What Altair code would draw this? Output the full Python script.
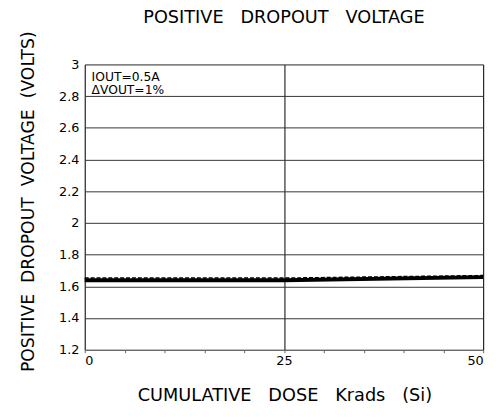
import altair as alt
import pandas as pd

dose = [0, 25, 50]
solid_v = [1.638, 1.638, 1.658]
dashed_v = [1.652, 1.652, 1.668]
x_ticks = [0, 5, 10, 15, 20, 25, 30, 35, 40, 45, 50]
y_ticks = [1.2, 1.4, 1.6, 1.8, 2.0, 2.2, 2.4, 2.6, 2.8, 3.0]
notes = ["IOUT=0.5A", "\u0394VOUT=1%"]
title_words = ["POSITIVE", "DROPOUT", "VOLTAGE"]
x_title_words = ["CUMULATIVE", "DOSE", "Krads", "(Si)"]
y_title_words = ["POSITIVE", "DROPOUT", "VOLTAGE", "(VOLTS)"]

FONT = "DejaVu Sans"
SP3 = " \u00a0\u00a0"
SP2 = " \u00a0"

df = pd.DataFrame({
    "dose": dose * 2,
    "v": solid_v + dashed_v,
    "series": ["solid"] * 3 + ["dashed"] * 3,
})

x = alt.X("dose:Q", scale=alt.Scale(domain=[0, 50], nice=False),
          axis=alt.Axis(values=x_ticks, title=SP3.join(x_title_words),
                        labelExpr="datum.value % 25 === 0 ? datum.label : ''",
                        gridOpacity={"condition": {"test": "datum.value % 25 === 0", "value": 1}, "value": 0},
                        gridColor="#000", tickSize=3, tickColor="#666",
                        labelFontSize=13, labelPadding=2, labelFont=FONT, labelColor="#000",
                        titleFont=FONT, titleFontSize=18, titleFontWeight="normal",
                        titleBaseline="alphabetic", titleY=52, titleX=203,
                        titleColor="#000", domain=False))
y = alt.Y("v:Q", scale=alt.Scale(domain=[1.2, 3.0], nice=False, zero=False),
          axis=alt.Axis(values=y_ticks, title=SP2.join(y_title_words),
                        labelExpr="datum.value === 2 ? '2' : datum.value === 3 ? '3' : format(datum.value, '.1f')",
                        gridColor="#333", ticks=False, labelPadding=6,
                        labelFontSize=13, labelFont=FONT, labelColor="#000",
                        titleFont=FONT, titleFontSize=17.5, titleFontWeight="normal",
                        titleBaseline="alphabetic", titleX=-52, titleY=139,
                        titleColor="#000", domain=False))

solid = alt.Chart(df).transform_filter("datum.series === 'solid'").mark_line(
    color="#000", strokeWidth=4).encode(x=x, y=y)
dashed = alt.Chart(df).transform_filter("datum.series === 'dashed'").mark_line(
    color="#000", strokeWidth=1.5, strokeDash=[4, 2]).encode(x=x, y=y)

ndf = pd.DataFrame({"t": ["\n".join(notes)]})
text = alt.Chart(ndf).mark_text(align="left", baseline="top", font=FONT,
                                fontSize=12.5, color="#000", lineBreak="\n",
                                lineHeight=13).encode(
    x=alt.value(7), y=alt.value(7), text="t:N")

tdf = pd.DataFrame({"t": [SP3.join(title_words)]})
title = alt.Chart(tdf).mark_text(align="center", baseline="alphabetic", font=FONT,
                                 fontSize=18, color="#000").encode(
    x=alt.value(202.5), y=alt.value(-42), text="t:N")

chart = alt.layer(solid, dashed, text, title).properties(
    width=405, height=290,
    autosize=alt.AutoSizeParams(type="none"),
    padding={"left": 78, "top": 54, "right": 11, "bottom": 65},
).configure_view(stroke="#000", strokeWidth=1.2).configure(background="white")

chart.save("out.html", embed_options={"renderer": "svg", "actions": False})
